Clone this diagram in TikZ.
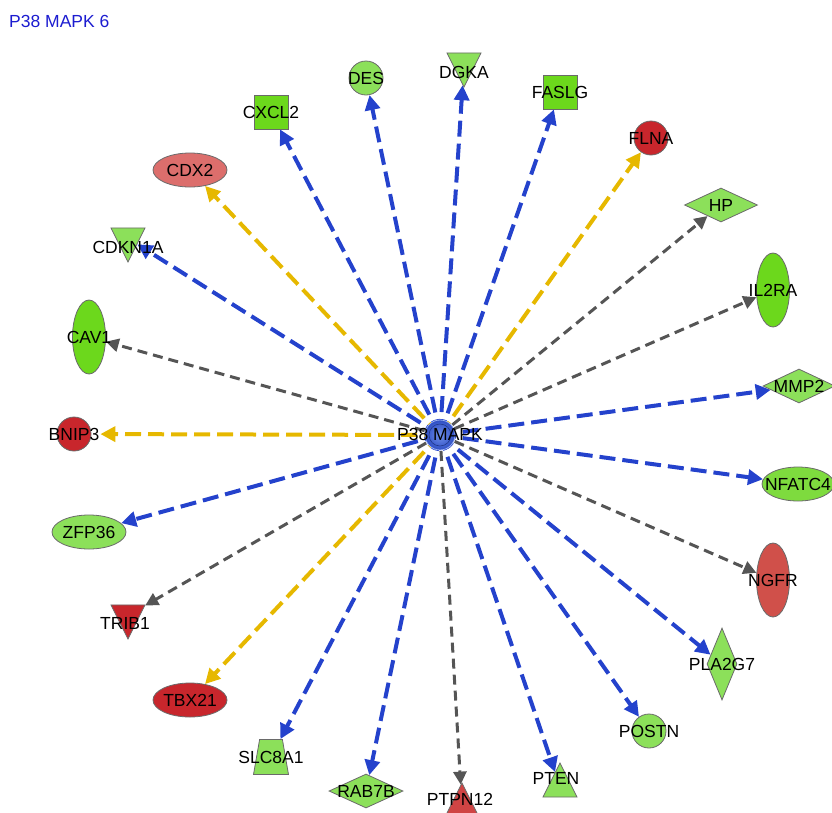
\documentclass[tikz,border=0pt]{standalone}
\usepackage{fontspec}
\setmainfont{Liberation Sans}
\usetikzlibrary{shapes.geometric,arrows.meta}
\pgfdeclarelayer{bg}
\pgfsetlayers{bg,main}
\definecolor{eblue}{HTML}{2442CC}
\definecolor{eyel}{HTML}{E6B800}
\definecolor{egray}{HTML}{555555}
\definecolor{gbright}{HTML}{6CD81C}
\definecolor{glight}{HTML}{8CE05A}
\definecolor{gmid}{HTML}{7EDB3E}
\definecolor{rdark}{HTML}{C8262C}
\definecolor{rsalmon}{HTML}{DC6E6C}
\definecolor{rmid}{HTML}{D0504A}
\definecolor{rptp}{HTML}{D04444}
\definecolor{titleblue}{HTML}{1C1CD0}
\definecolor{bord}{HTML}{6A6A6A}
\definecolor{hubin}{HTML}{7090EA}
\definecolor{hubout}{HTML}{2E4EC4}
\tikzset{
  txt/.style={font=\fontsize{17.5}{20}\selectfont},
  mol/.style={draw=bord, line width=0.8pt, inner sep=0pt},
  lbl/.style={txt, inner sep=0pt, text=black},
  circ/.style={mol, circle, minimum size=34pt},
  ellh/.style={mol, ellipse, minimum width=74pt, minimum height=34pt},
  ellv/.style={mol, ellipse, minimum width=33pt, minimum height=74pt},
  sq/.style={mol, rectangle, minimum size=34pt},
  dmh/.style={mol, diamond, minimum width=73pt, minimum height=34pt},
  dmv/.style={mol, diamond, minimum width=30pt, minimum height=72pt},
  tridown/.style={mol, isosceles triangle, isosceles triangle stretches, shape border rotate=270, minimum width=34pt, minimum height=34pt, anchor=apex},
  triup/.style={mol, isosceles triangle, isosceles triangle stretches, shape border rotate=90, minimum width=34pt, minimum height=34pt, anchor=apex},
  trap/.style={mol, inner sep=1pt, trapezium, trapezium left angle=75, trapezium right angle=75, trapezium stretches, minimum width=35pt, minimum height=35pt},
  eb/.style={draw=eblue, line width=4pt, dash pattern=on 16pt off 7pt, -{Triangle[length=15pt,width=15pt]}},
  ey/.style={draw=eyel, line width=4pt, dash pattern=on 16pt off 7pt, -{Triangle[length=15pt,width=15pt]}},
  eg/.style={draw=egray, line width=3pt, dash pattern=on 10pt off 6pt, -{Triangle[length=13pt,width=13pt]}},
  hub/.style={circle, minimum size=30pt, inner sep=0pt, draw=hubin!70!white, line width=0.8pt, inner color=hubin, outer color=hubout}
}
\begin{document}
\begin{tikzpicture}[x=1pt,y=-1pt]
\useasboundingbox (0,0) rectangle (832,812);
\node[txt, text=titleblue, anchor=west, inner sep=0pt] (title) at (9,21) {P38 MAPK 6};

\node[hub] (p38) at (440,435) {};
\draw[hubout!70!black, line width=0.6pt] (p38.center) circle (11pt);
\node[lbl] (p38l) at (440,434) {P38 MAPK};

\node[sq, fill=gbright, label={[lbl]center:CXCL2}] (cxcl2) at (271,112) {};
\node[ellh, fill=rsalmon, label={[lbl]center:CDX2}] (cdx2) at (190,170) {};
\node[tridown, fill=glight] (cdkn1a) at (128,263) {};
\node[lbl] (cdkn1al) at (128,247) {CDKN1A};
\node[circ, fill=glight, label={[lbl]center:DES}] (des) at (366,78) {};
\node[tridown, fill=glight] (dgka) at (464,88) {};
\node[lbl] (dgkal) at (464,72) {DGKA};
\node[sq, fill=gbright, label={[lbl]center:FASLG}] (faslg) at (560,92) {};
\node[circ, fill=rdark, label={[lbl]center:FLNA}] (flna) at (651,138) {};
\node[dmh, fill=glight, label={[lbl]center:HP}] (hp) at (721,205) {};
\node[ellv, fill=gbright, label={[lbl]center:IL2RA}] (il2ra) at (773,290) {};
\node[dmh, fill=glight, minimum width=72pt, label={[lbl]center:MMP2}] (mmp2) at (799,386) {};
\node[ellh, fill=gmid, minimum width=72pt, label={[lbl]center:NFATC4}] (nfatc4) at (798,484) {};
\node[ellv, fill=rmid, label={[lbl]center:NGFR}] (ngfr) at (773,580) {};
\node[dmv, fill=glight, label={[lbl]center:PLA2G7}] (pla2g7) at (722,664) {};
\node[circ, fill=glight, label={[lbl]center:POSTN}] (postn) at (649,731) {};
\node[triup, fill=glight] (pten) at (560,762) {};
\node[lbl] (ptenl) at (556,778) {PTEN};
\node[triup, fill=rptp] (ptpn12) at (462,782) {};
\node[lbl] (ptpn12l) at (460,799) {PTPN12};
\node[dmh, fill=glight, minimum width=74pt, label={[lbl]center:RAB7B}] (rab7b) at (366,791) {};
\node[trap, fill=glight, label={[lbl]center:SLC8A1}] (slc8a1) at (271,757) {};
\node[ellh, fill=rdark, label={[lbl]center:TBX21}] (tbx21) at (190,700) {};
\node[tridown, fill=rdark] (trib1) at (128,640) {};
\node[lbl] (trib1l) at (125,623) {TRIB1};
\node[ellh, fill=glight, label={[lbl]center:ZFP36}] (zfp36) at (89,532) {};
\node[circ, fill=rdark, label={[lbl]center:BNIP3}] (bnip3) at (74,434) {};
\node[ellv, fill=gbright, label={[lbl]center:CAV1}] (cav1) at (89,337) {};

\begin{pgfonlayer}{bg}
\draw[eb] (p38.center) -- (cxcl2);
\draw[ey] (p38.center) -- (cdx2);
\draw[eb] (p38.center) -- (cdkn1a);
\draw[eb] (p38.center) -- (des);
\draw[eb] (p38.center) -- (dgka);
\draw[eb] (p38.center) -- (faslg);
\draw[ey] (p38.center) -- (flna);
\draw[eg] (p38.center) -- (hp);
\draw[eg] (p38.center) -- (il2ra);
\draw[eb] (p38.center) -- (mmp2);
\draw[eb] (p38.center) -- (nfatc4);
\draw[eg] (p38.center) -- (ngfr);
\draw[eb] (p38.center) -- (pla2g7);
\draw[eb] (p38.center) -- (postn);
\draw[eb] (p38.center) -- (pten);
\draw[eg] (p38.center) -- (ptpn12);
\draw[eb] (p38.center) -- (rab7b);
\draw[eb] (p38.center) -- (slc8a1);
\draw[ey] (p38.center) -- (tbx21);
\draw[eg] (p38.center) -- (trib1);
\draw[eb] (p38.center) -- (zfp36);
\draw[ey, shorten >=9pt] (p38.center) -- (bnip3);
\draw[eg] (p38.center) -- (cav1);
\end{pgfonlayer}
\end{tikzpicture}
\end{document}
